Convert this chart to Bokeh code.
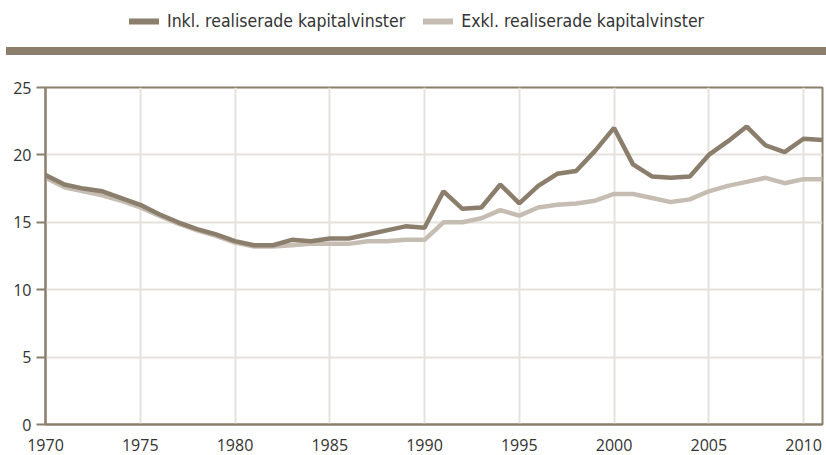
from bokeh.plotting import figure
from bokeh.layouts import column
from bokeh.models import Range1d, SingleIntervalTicker, Legend, LegendItem, Div
from bokeh.embed import file_html
from bokeh.resources import INLINE

years = list(range(1970, 2012))
inkl = [18.5, 17.8, 17.5, 17.3, 16.8, 16.3, 15.6, 15.0, 14.5, 14.1,
        13.6, 13.3, 13.3, 13.7, 13.6, 13.8, 13.8, 14.1, 14.4, 14.7,
        14.6, 17.3, 16.0, 16.1, 17.8, 16.4, 17.7, 18.6, 18.8, 20.3,
        22.0, 19.3, 18.4, 18.3, 18.4, 20.0, 21.0, 22.1, 20.7, 20.2,
        21.2, 21.1]
exkl = [18.3, 17.6, 17.3, 17.0, 16.6, 16.1, 15.5, 14.9, 14.4, 14.0,
        13.5, 13.2, 13.2, 13.3, 13.4, 13.4, 13.4, 13.6, 13.6, 13.7,
        13.7, 15.0, 15.0, 15.3, 15.9, 15.5, 16.1, 16.3, 16.4, 16.6,
        17.1, 17.1, 16.8, 16.5, 16.7, 17.3, 17.7, 18.0, 18.3, 17.9,
        18.2, 18.2]
labels = ["Inkl. realiserade kapitalvinster", "Exkl. realiserade kapitalvinster"]

DARK = "#8b7e6c"
LIGHT = "#c6bdb2"
GRID = "#e6e2db"
TXT = "#333333"

# legend strip (legend swatches come from off-screen sample lines)
leg_fig = figure(width=826, height=47, output_backend="svg", toolbar_location=None,
                 x_range=Range1d(0, 1), y_range=Range1d(0, 1),
                 min_border_left=45, min_border_right=4, min_border_top=0,
                 min_border_bottom=0)
leg_fig.axis.visible = False
leg_fig.grid.grid_line_color = None
leg_fig.outline_line_color = None
d_dark = leg_fig.line([-5, -4], [-5, -5], line_color=DARK, line_width=6, line_cap="round")
d_light = leg_fig.line([-5, -4], [-5, -5], line_color=LIGHT, line_width=6, line_cap="round")
legend = Legend(items=[LegendItem(label=labels[0], renderers=[d_dark]),
                       LegendItem(label=labels[1], renderers=[d_light])],
                orientation="horizontal", location=(84, 16),
                label_text_font="DejaVu Sans Condensed", label_text_font_size="17.5px",
                label_text_color=TXT, glyph_width=30, glyph_height=20,
                spacing=18, label_standoff=8, padding=0, margin=0,
                border_line_color=None, background_fill_alpha=0)
leg_fig.add_layout(legend, "center")

# separator bar
bar = Div(text="", width=820, height=8, margin=(0, 0, 0, 6),
          styles={"background-color": DARK})

# main chart
p = figure(width=826, height=400, output_backend="svg", toolbar_location=None,
           x_range=Range1d(1970, 2011), y_range=Range1d(0, 25),
           min_border_left=45, min_border_right=4, min_border_top=32,
           min_border_bottom=31)

p.outline_line_color = DARK
p.outline_line_width = 2

for ax in (p.xaxis[0], p.yaxis[0]):
    ax.axis_line_color = DARK
    ax.axis_line_width = 2
    ax.major_tick_line_color = DARK
    ax.major_tick_line_width = 2
    ax.minor_tick_line_color = None
    ax.major_label_text_font = "Open Sans"
    ax.major_label_text_font_size = "16px"
    ax.major_label_text_color = TXT

p.xaxis.ticker = SingleIntervalTicker(interval=5)
p.yaxis.ticker = SingleIntervalTicker(interval=5)
p.xaxis.major_tick_out = 0
p.xaxis.major_tick_in = 0
p.xaxis.major_label_standoff = 10
p.yaxis.major_tick_out = 9
p.yaxis.major_tick_in = 0
p.yaxis.major_label_standoff = 5

p.xgrid.grid_line_color = GRID
p.ygrid.grid_line_color = GRID
p.xgrid.grid_line_width = 2
p.ygrid.grid_line_width = 2

p.line(years, exkl, line_color=LIGHT, line_width=4.5, line_cap="round")
p.line(years, inkl, line_color=DARK, line_width=4.5, line_cap="round")

layout = column(leg_fig, bar, p, spacing=0)
open("out.html", "w").write(file_html(layout, INLINE))
